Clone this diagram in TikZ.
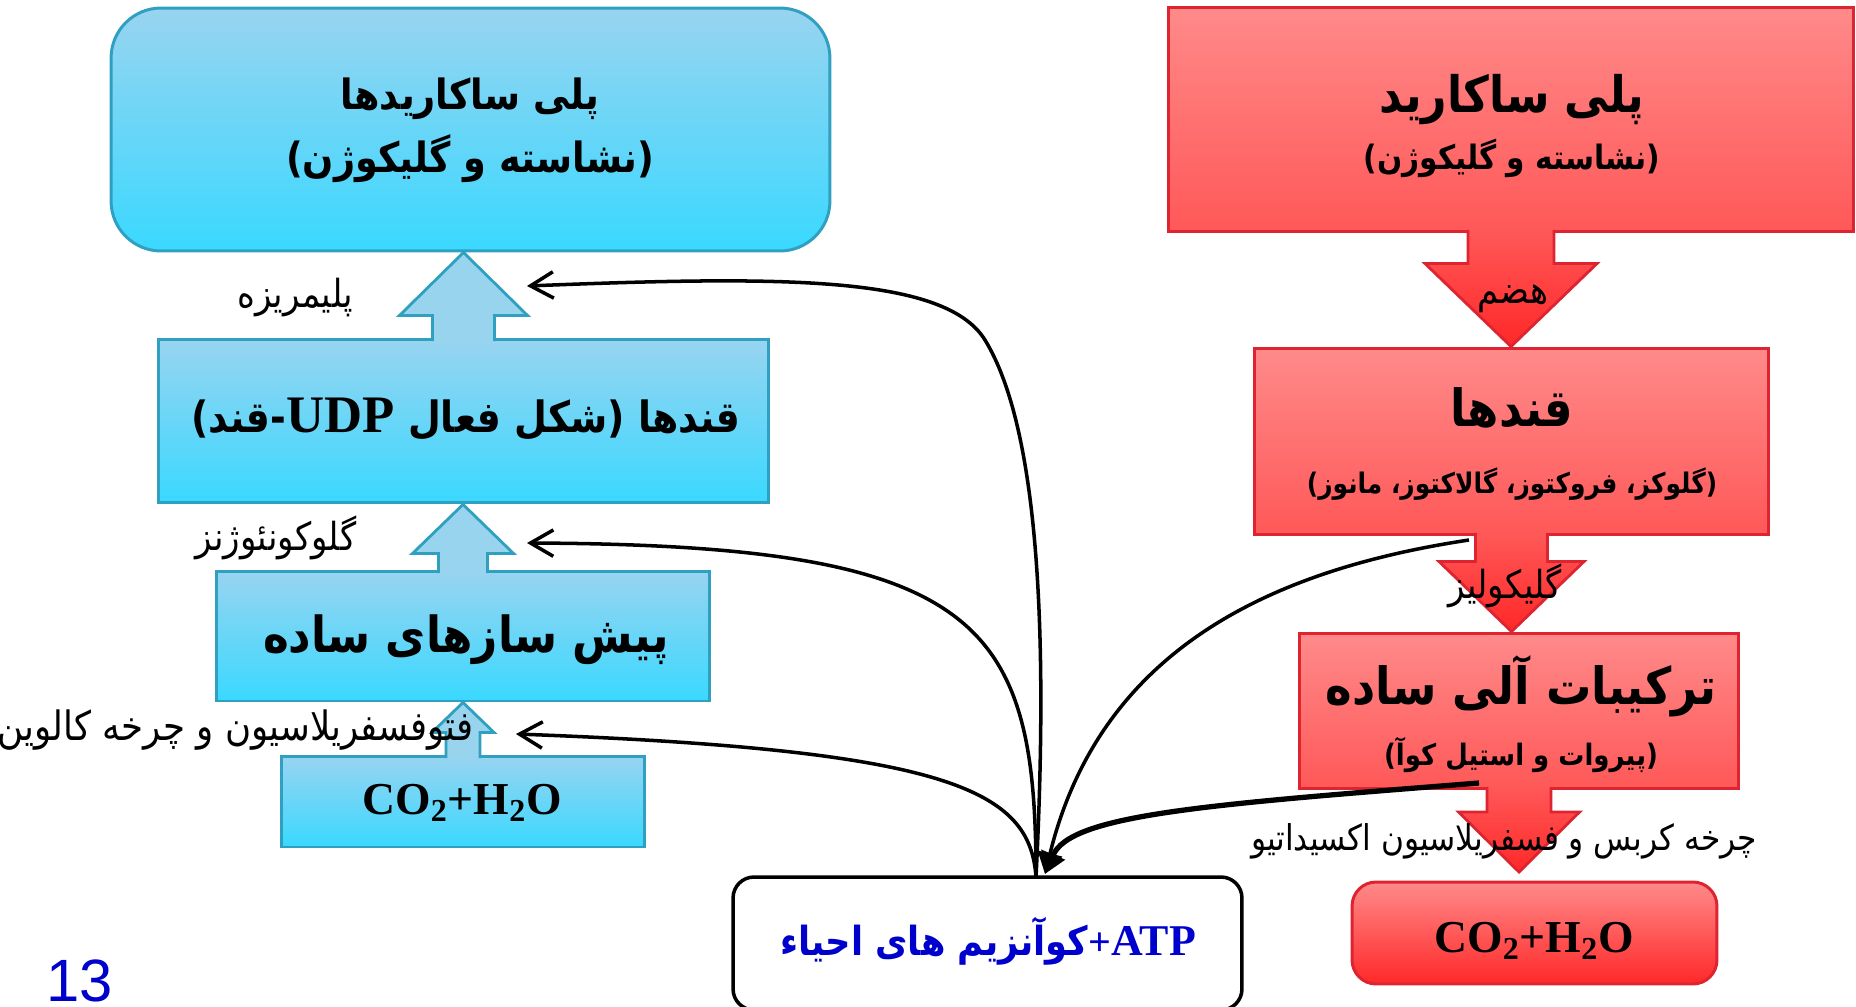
\documentclass[tikz,border=0pt]{standalone}
\usepackage{fontspec}
\setmainfont{Liberation Serif}
\newfontfamily\arabicfont[Script=Arabic,FakeStretch=0.88]{DejaVu Sans}
\newfontfamily\pagefont{Liberation Sans}
\TeXXeTstate=1
\usetikzlibrary{arrows.meta,calc}

\definecolor{skytop}{RGB}{152,212,240}
\definecolor{skybot}{RGB}{58,216,255}
\definecolor{skyedge}{RGB}{48,160,192}
\definecolor{skyarrow}{RGB}{152,212,238}
\definecolor{rosetop}{RGB}{255,138,138}
\definecolor{rosebot}{RGB}{255,88,88}
\definecolor{rosedeep}{RGB}{255,40,40}
\definecolor{roseedge}{RGB}{222,36,48}
\definecolor{inkblue}{RGB}{0,0,204}

\def\pxlen{0.569pt}
% block arrow: #1 fill, #2 edge, #3 tail, #4 tip,
% #5 half shaft, #6 half head, #7 head length (px, negative = down)
\newcommand{\blockarr}[7]{%
  \path[#1] let \p1=(#3), \p2=(#4) in
    ({\x2-#5*\pxlen},{\y1-(#7)/abs(#7)*2pt}) -- ({\x2-#5*\pxlen},{\y2-(#7)*\pxlen})
    -- ({\x2-#6*\pxlen},{\y2-(#7)*\pxlen}) -- (\x2,\y2)
    -- ({\x2+#6*\pxlen},{\y2-(#7)*\pxlen}) -- ({\x2+#5*\pxlen},{\y2-(#7)*\pxlen})
    -- ({\x2+#5*\pxlen},{\y1-(#7)/abs(#7)*2pt}) -- cycle;
  \draw[#2,line width=1.6pt] let \p1=(#3), \p2=(#4) in
    ({\x2-#5*\pxlen},{\y1-(#7)/abs(#7)*2pt}) -- ({\x2-#5*\pxlen},{\y2-(#7)*\pxlen})
    -- ({\x2-#6*\pxlen},{\y2-(#7)*\pxlen}) -- (\x2,\y2)
    -- ({\x2+#6*\pxlen},{\y2-(#7)*\pxlen}) -- ({\x2+#5*\pxlen},{\y2-(#7)*\pxlen})
    -- ({\x2+#5*\pxlen},{\y1-(#7)/abs(#7)*2pt});
}

\begin{document}
\begin{tikzpicture}[x=0.02cm,y=-0.02cm,
  skybox/.style={draw=skyedge,line width=1.7pt,top color=skytop,bottom color=skybot,inner sep=0pt},
  rosebox/.style={draw=roseedge,line width=1.7pt,top color=rosetop,bottom color=rosebot,inner sep=0pt},
  head/.style 2 args={font=\arabicfont\bfseries\fontsize{#1}{#2}\selectfont,inner sep=0pt,align=center},
  formula/.style={font=\bfseries\fontsize{26}{26}\selectfont,inner sep=0pt},
  note/.style={font=\arabicfont\fontsize{#1}{#1}\selectfont,inner sep=0pt},
  note/.default=22,
  supply/.style={line width=2pt,-{Straight Barb[length=13pt,width=15pt]}},
  release/.style={line width=2pt,-{Triangle[length=12pt,width=14pt]}}]
\useasboundingbox (0,0) rectangle (1856,1007);

% anabolic side
\node[skybox,rounded corners=1cm,minimum width=14.38cm,minimum height=4.86cm] (poly) at (470.5,129.5) {};
\node[head={23.7}{35.8}] (polytxt) at (470,130)
  {\beginR پلی ساکاریدها\endR\\\beginR(نشاسته و گلیکوژن)\endR};
\node[skybox,minimum width=12.22cm,minimum height=3.28cm] (udp) at (463.5,421) {};
\node[head={24.5}{30}] (udptxt) at (466,419)
  {\beginR قندها (شکل فعال \beginL{\rmfamily\fontsize{30}{30}\selectfont UDP}\endL-قند)\endR};
\node[skybox,minimum width=9.88cm,minimum height=2.6cm] (pre) at (463,636) {};
\node[head={28.3}{34}] (pretxt) at (466,640) {\beginR پیش سازهای ساده\endR};
\node[skybox,minimum width=7.28cm,minimum height=1.82cm] (co2a) at (463,801.5) {};
\node[formula] (co2atxt) at (462,803) {CO\textsubscript{2}+H\textsubscript{2}O};

% catabolic side
\node[rosebox,minimum width=13.72cm,minimum height=4.5cm] (rpoly) at (1511,119.5) {};
\node[head={28.6}{32.4}] (rpolytxt) at (1512,126)
  {\beginR پلی ساکارید\endR\\{\fontsize{19.1}{19.1}\selectfont\beginR(نشاسته و گلیکوژن)\endR}};
\node[rosebox,minimum width=10.3cm,minimum height=3.74cm] (sugar) at (1511.5,441.5) {};
\node[head={29.2}{38.1}] (sugartxt) at (1512,444)
  {\beginR قندها\endR\\{\fontsize{16.1}{16.1}\selectfont\beginR(گلوکز، فروکتوز، گالاکتوز، مانوز)\endR}};
\node[rosebox,minimum width=8.8cm,minimum height=3.12cm] (simple) at (1519,711) {};
\node[head={29.2}{34.7}] (simpletxt) at (1521,714)
  {\beginR ترکیبات آلی ساده\endR\\{\fontsize{16.8}{16.8}\selectfont\beginR(پیروات و استیل کوآ)\endR}};
\node[rosebox,rounded corners=0.48cm,bottom color=rosedeep,minimum width=7.3cm,minimum height=2.04cm] (co2b) at (1534.5,933) {};
\node[formula] (co2btxt) at (1534,941) {CO\textsubscript{2}+H\textsubscript{2}O};

% energy carriers
\node[draw,line width=2pt,fill=white,rounded corners=0.42cm,minimum width=10.18cm,minimum height=2.66cm] (atp) at (987.5,943.5) {};
\node[head={22.8}{22.8},text=inkblue] (atptxt) at (988,941)
  {\beginR\beginL{\rmfamily\fontsize{25}{25}\selectfont ATP}\endL{\rmfamily +}کوآنزیم های احیاء\endR};

% block arrows
\blockarr{fill=skyarrow}{skyedge}{udp.north}{udp.north |- poly.south}{31}{64}{63}
\blockarr{fill=skyarrow}{skyedge}{pre.north}{pre.north |- udp.south}{24.5}{50.5}{49}
\blockarr{fill=skyarrow}{skyedge}{co2a.north}{co2a.north |- pre.south}{17}{31}{30}
\coordinate (tip3) at (1519,872);
\blockarr{top color=rosebot,bottom color=rosedeep}{roseedge}{rpoly.south}{rpoly.south |- sugar.north}{43}{86}{-83}
\blockarr{top color=rosebot,bottom color=rosedeep}{roseedge}{sugar.south}{sugar.south |- simple.north}{36}{72.5}{-70}
\blockarr{top color=rosebot,bottom color=rosedeep}{roseedge}{simple.south}{tip3}{32}{60.5}{-60}

% process labels
\node[note] (polym) at (295,298) {\beginR پلیمریزه\endR};
\node[note] (gng) at (276,538) {\beginR گلوکونئوژنز\endR};
\node[note=23,anchor=east] (photo) at (474,730) {\beginR فتوفسفریلاسیون و چرخه کالوین\endR};
\node[note] (digest) at (1513,299) {\beginR هضم\endR};
\node[note] (glyc) at (1505,586) {\beginR گلیکولیز\endR};
\node[note=20.2] (krebs) at (1504,841) {\beginR چرخه کربس و فسفریلاسیون اکسیداتیو\endR};

% curved connectors
\coordinate (src) at (1036,877);
\coordinate (sink) at (1045,874);
\coordinate (in1) at (527,286);
\coordinate (in2) at (527,543);
\coordinate (in3) at (516,734);
\coordinate (out1) at (1469,540);
\coordinate (out2) at (1479,783);
\draw[supply] (src) .. controls (1048,640) and (1040,430) .. (985,340)
  .. controls (945,275) and (780,276) .. (in1);
\draw[supply] (src) .. controls (1036,620) and (980,545) .. (in2);
\draw[supply] (src) .. controls (1030,790) and (950,750) .. (in3);
\draw[release] (out1) .. controls (1270,570) and (1100,650) .. (sink);
\draw[release,line width=3pt] (out2) .. controls (1200,805) and (1070,815) .. (sink);

\node[font=\pagefont\fontsize{34}{34}\selectfont,text=inkblue,inner sep=0pt,anchor=base west] (page) at (46,1001) {13};
\end{tikzpicture}
\end{document}
